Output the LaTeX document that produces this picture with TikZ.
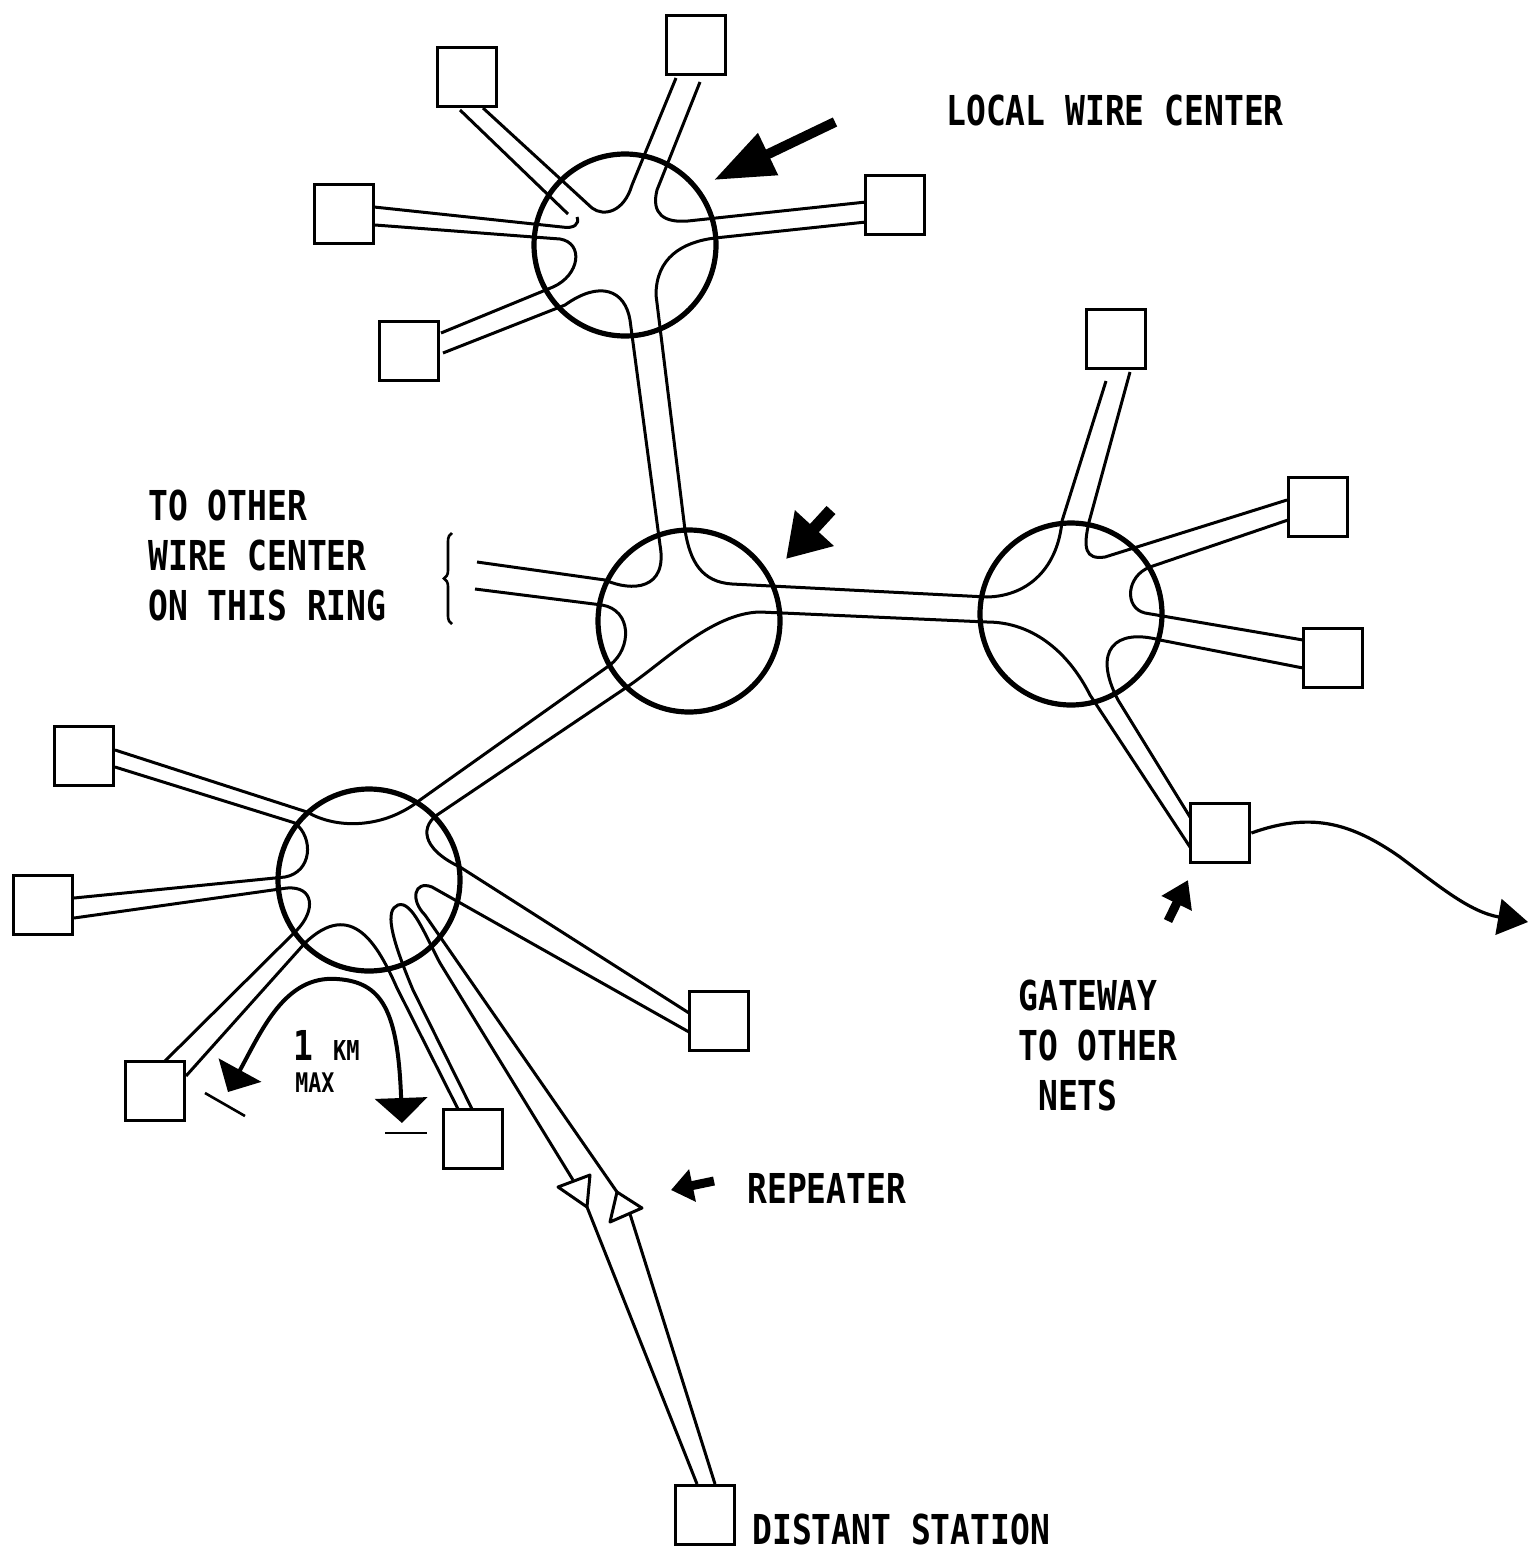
\documentclass[tikz,border=0pt]{standalone}
\usepackage{fontspec}
\newfontfamily\lblfont[FakeStretch=0.8]{DejaVu Sans Mono}
\usetikzlibrary{arrows.meta,decorations.pathreplacing}

\begin{document}
\begin{tikzpicture}[
    x=0.5pt, y=-0.5pt,
    hub/.style={circle, draw, line width=2.6pt, minimum size=91pt, inner sep=0pt},
    stn/.style={rectangle, draw, line width=1.9pt, minimum size=29.5pt, inner sep=0pt},
    wire/.style={line width=1.5pt, line join=round},
    fatarrow/.style={line width=5pt, -{Triangle[length=30pt, width=22pt]}},
    lbl/.style={font=\lblfont\bfseries\fontsize{20.6}{25}\selectfont, inner sep=0pt},
    smalllbl/.style={font=\lblfont\bfseries\fontsize{13.5}{16}\selectfont, inner sep=0pt},
]
\useasboundingbox (0,0) rectangle (1529,1553);

% wire centers
\node[hub] (H1) at (625,245) {};
\node[hub] (H2) at (689,621) {};
\node[hub] (H3) at (1071,614) {};
\node[hub] (H4) at (369,880) {};

% stations
\node[stn] (S1) at (467,77) {};
\node[stn] (S2) at (696,45) {};
\node[stn] (S3) at (344,214) {};
\node[stn] (S4) at (895,205) {};
\node[stn] (S5) at (409,351) {};
\node[stn] (S6) at (1116,339) {};
\node[stn] (S7) at (1318,507) {};
\node[stn] (S8) at (1333,658) {};
\node[stn] (GW) at (1220,833) {};
\node[stn] (S10) at (84,756) {};
\node[stn] (S11) at (43,905) {};
\node[stn] (S12) at (155,1091) {};
\node[stn] (S13) at (473,1139) {};
\node[stn] (S14) at (719,1021) {};
\node[stn] (S15) at (705,1515) {};

% the ring, station to station
\draw[wire] (460,110) -- (568,214);
\draw[wire] (374,207) -- (562,227) .. controls (574,229) and (580,224) .. (577,217);
\draw[wire] (483,108) -- (592,208) .. controls (604,217) and (624,212) .. (632,185) -- (676,78);
\draw[wire] (700,82) -- (657,190) .. controls (651,214) and (664,223) .. (688,221) -- (866,202);
\draw[wire] (866,222) -- (715,238) .. controls (682,242) and (656,258) .. (656,295) -- (685,530)
    .. controls (690,562) and (702,582) .. (732,584) -- (987,597)
    .. controls (1030,596) and (1058,566) .. (1062,521) -- (1106,381);
\draw[wire] (1130,372) -- (1089,522) .. controls (1083,548) and (1085,560) .. (1105,557) -- (1287,500);
\draw[wire] (1288,520) -- (1150,567) .. controls (1126,576) and (1124,608) .. (1145,613) -- (1303,640);
\draw[wire] (1303,668) -- (1160,640) .. controls (1115,628) and (1092,650) .. (1118,700) -- (1190,817);
\draw[wire] (1190,847) -- (1090,695) .. controls (1070,655) and (1035,622) .. (987,622) -- (760,612)
    .. controls (712,613) and (664,662) .. (627,687) -- (440,813)
    .. controls (420,825) and (420,848) .. (460,867) -- (689,1013);
\draw[wire] (689,1032) -- (432,887) .. controls (414,880) and (410,900) .. (425,915) -- (617,1192);
\draw[wire] (630,1214) -- (715,1484);
\draw[wire] (697,1484) -- (587,1207);
\draw[wire] (573,1180) -- (440,963) .. controls (425,935) and (412,900) .. (398,905)
    .. controls (385,910) and (390,935) .. (413,990) -- (472,1109);
\draw[wire] (458,1109) -- (397,988) .. controls (378,945) and (352,898) .. (305,943) -- (186,1076);
\draw[wire] (165,1061) -- (297,930) .. controls (316,910) and (314,886) .. (287,888) -- (74,918);
\draw[wire] (74,898) -- (285,877) .. controls (312,872) and (314,838) .. (295,823) -- (115,767);
\draw[wire] (115,750) -- (307,812) .. controls (338,830) and (385,828) .. (420,800) -- (610,665)
    .. controls (632,648) and (632,610) .. (602,605) -- (475,589);
\draw[wire] (477,562) -- (605,580) .. controls (632,592) and (668,590) .. (660,545) -- (630,320)
    .. controls (625,290) and (600,280) .. (565,305) -- (443,353);
\draw[wire] (441,333) -- (553,287) .. controls (580,275) and (584,243) .. (560,239) -- (375,225);

% repeaters
\draw[wire] (558,1187) -- (590,1175) -- (587,1207) -- cycle;
\draw[wire] (610,1222) -- (617,1192) -- (642,1208) -- cycle;

% gateway to other nets
\draw[line width=1.6pt, -{Triangle[length=15pt, width=18pt]}] (GW.east)
    .. controls (1310,812) and (1350,822) .. (1400,857)
    .. controls (1440,887) and (1470,912) .. (1528,922);

% 1 km max
\draw[line width=2pt, {Triangle[length=12.5pt, width=24pt]}-{Triangle[length=12.5pt, width=26pt]}]
    (228,1092) .. controls (262,1030) and (285,975) .. (337,979)
    .. controls (382,982) and (398,1010) .. (402,1123);
\draw[line width=1.3pt] (205,1093) -- (245,1116);
\draw[line width=1.3pt] (385,1133) -- (427,1133);

% brace and pointers
\draw[line width=1.3pt, decorate, decoration={brace, amplitude=4pt}] (452,624) -- (452,533);
\draw[fatarrow] (835,122) -- (714,180);
\draw[line width=6pt, -{Triangle[length=21pt, width=25pt]}] (831,510) -- (786,559);
\draw[line width=4.5pt, -{Triangle[length=13pt, width=16pt]}] (1168,921) -- (1188,880);
\draw[line width=4.5pt, -{Triangle[length=11pt, width=16pt]}] (714,1181) -- (671,1190);

% labels
\node[lbl, anchor=base west] (lwc) at (946,125) {LOCAL WIRE CENTER};
\node[lbl, anchor=north west, align=left] (toother) at (148,490) {TO OTHER\\WIRE CENTER\\ON THIS RING};
\node[lbl, anchor=north west, align=left] (gwtext) at (1018,980) {GATEWAY\\TO OTHER\\~NETS};
\node[lbl, anchor=base west] (rep) at (747,1203) {REPEATER};
\node[lbl, anchor=base west] (dist) at (752,1544) {DISTANT STATION};
\node[lbl, anchor=base west] (km) at (293,1060) {1 {\fontsize{13.7}{16}\selectfont KM}};
\node[smalllbl, anchor=base west] (max) at (295,1092) {MAX};
\end{tikzpicture}
\end{document}
